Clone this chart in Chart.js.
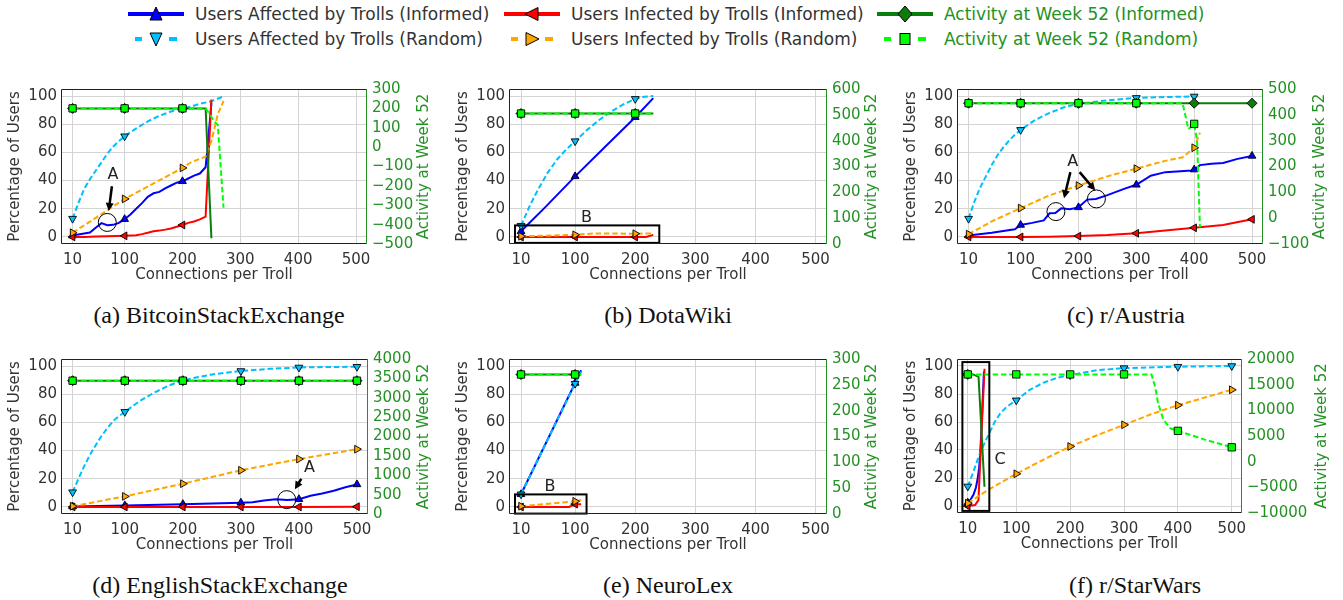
<!DOCTYPE html>
<html>
<head>
<meta charset="utf-8">
<title>Trolls: connections per troll</title>
<script src="https://cdn.jsdelivr.net/npm/chart.js@4.4.1/dist/chart.umd.min.js"></script>
<style>
	html, body { margin: 0; padding: 0; background: #fff; overflow: hidden; }
	body { position: relative; width: 1343px; height: 600px; font-family: 'DejaVu Sans', sans-serif; }
	canvas { position: absolute; }
	.caption { position: absolute; transform: translate(-50%, -50%); font-family: 'Liberation Serif', 'Times New Roman', serif; font-size: 24px; color: #111; white-space: nowrap; }
	.leg-handle { position: absolute; }
	.leg-text { position: absolute; font-size: 17px; line-height: 22px; white-space: nowrap; }
</style>
</head>
<body>
<script>
const markerX = [10, 100, 200, 300, 400, 500];
const xTicks = [10, 100, 200, 300, 400, 500];
const pctTicks = [0, 20, 40, 60, 80, 100];

const seriesLabels = [
	'Users Affected by Trolls (Informed)',
	'Users Affected by Trolls (Random)',
	'Users Infected by Trolls (Informed)',
	'Users Infected by Trolls (Random)',
	'Activity at Week 52 (Informed)',
	'Activity at Week 52 (Random)'
];

// (a) BitcoinStackExchange
const btcAffectedInformed = [[10, 1], [20, 1.8], [30, 2.5], [40, 3.2], [50, 6.5], [60, 9.8], [70, 8.3], [80, 8.6], [90, 10], [100, 12.6], [110, 16], [120, 20], [130, 24], [140, 28.5], [150, 31], [160, 32], [170, 34.5], [180, 36.5], [190, 38.5], [200, 39.5], [210, 41.5], [220, 43.5], [230, 45], [240, 49.5], [243, 62], [250, 95]];
const btcAffectedRandom = [[10, 13], [20, 24], [30, 34], [40, 41], [50, 47], [60, 53], [70, 59], [80, 64], [90, 68], [100, 71.5], [120, 77], [140, 82], [160, 86], [180, 89], [200, 91.5], [215, 92.5], [230, 94.5], [250, 96.3], [271, 99.8]];
const btcInfectedInformed = [[10, 0], [30, 0], [50, 0.3], [70, 0.5], [100, 0.8], [120, 1.2], [130, 2], [140, 3], [150, 4], [160, 4.5], [170, 5.2], [180, 6], [190, 7.2], [200, 8.5], [210, 10], [220, 11], [230, 12.5], [240, 14.4], [250, 97.5]];
const btcInfectedRandom = [[10, 3], [50, 13.5], [100, 27], [150, 38], [200, 49], [215, 53], [240, 57], [250, 68], [261, 87], [271, 96.5]];
const btcActivityInformed = [[10, 200], [100, 200], [200, 200], [240, 200], [250, -470]];
const btcActivityRandom = [[10, 200], [100, 200], [200, 200], [240, 200], [246, 175], [255, 132], [261, 115], [271, -313]];
const btcActivityTicks = [-500, -400, -300, -200, -100, 0, 100, 200, 300];
const btcNotes = [
	{ kind: 'circle', at: [70, 10.3] },
	{ kind: 'arrow', from: [78, 36], to: [72.5, 18.5] },
	{ kind: 'text', at: [80, 44], text: 'A' }
];

// (b) DotaWiki
const dotaAffectedInformed = [[10, 4], [50, 21], [100, 43], [150, 64], [200, 85], [230, 98.5]];
const dotaAffectedRandom = [[10, 8], [25, 22.5], [40, 35], [55, 46], [70, 55], [85, 62], [100, 68], [120, 76], [140, 83], [160, 89], [180, 94], [200, 98], [215, 99.5], [230, 100]];
const dotaInfectedInformed = [[10, 0], [100, 0], [200, 0], [218, 0], [230, 1.5]];
const dotaInfectedRandom = [[10, 0.5], [60, 1], [100, 1.5], [130, 2.5], [200, 2.3], [230, 2.5]];
const dotaActivityInformed = [[10, 505], [100, 505], [200, 505], [230, 505]];
const dotaActivityRandom = [[10, 505], [100, 505], [200, 505], [230, 505]];
const dotaActivityTicks = [0, 100, 200, 300, 400, 500, 600];
const dotaNotes = [
	{ kind: 'box', from: [0, 8.2], to: [240, -4.2] },
	{ kind: 'text', at: [119, 13.5], text: 'B' }
];

// (c) r/Austria
const austriaAffectedInformed = [[10, 1], [50, 3], [90, 5.5], [100, 8.5], [120, 10], [140, 11.7], [150, 16.8], [160, 17], [170, 20.3], [185, 19.6], [200, 21], [215, 26.5], [230, 27], [250, 29.7], [280, 34.3], [300, 37], [325, 43.5], [350, 46], [370, 46.5], [395, 47.2], [400, 47.8], [410, 51], [430, 52], [450, 52.5], [475, 55.4], [500, 57.5]];
const austriaAffectedRandom = [[10, 13], [20, 25], [30, 35], [40, 43], [50, 51], [60, 58], [70, 63.5], [80, 68.5], [90, 72.5], [100, 76], [125, 83], [150, 88], [175, 92], [200, 94.5], [250, 97], [300, 98.7], [350, 99.3], [400, 99.7], [410, 99.8]];
const austriaInfectedInformed = [[10, 0], [100, 0], [150, 0.2], [200, 0.6], [250, 1.3], [300, 2.6], [350, 4.5], [400, 6.5], [450, 8.5], [500, 12.5]];
const austriaInfectedRandom = [[10, 2], [50, 11], [100, 20.5], [150, 29.5], [200, 36.5], [250, 43], [300, 48.5], [350, 54], [380, 56.5], [400, 63.3], [410, 74]];
const austriaActivityInformed = [[10, 445], [100, 445], [200, 445], [300, 445], [400, 445], [500, 445]];
const austriaActivityRandom = [[10, 445], [100, 445], [200, 445], [300, 445], [380, 445], [390, 345], [400, 365], [405, 300], [410, -35]];
const austriaActivityTicks = [-100, 0, 100, 200, 300, 400, 500];
const austriaNotes = [
	{ kind: 'circle', at: [161, 18] },
	{ kind: 'circle', at: [231, 27] },
	{ kind: 'arrow', from: [186, 46], to: [175, 27.5] },
	{ kind: 'arrow', from: [202, 46], to: [229, 33] },
	{ kind: 'text', at: [190, 53], text: 'A' }
];

// (d) EnglishStackExchange
const englishAffectedInformed = [[10, 0.3], [100, 1], [200, 2], [300, 3], [320, 3.3], [340, 4.5], [360, 5.5], [380, 5], [400, 5.5], [420, 8], [440, 9.5], [460, 11.5], [480, 14], [500, 16]];
const englishAffectedRandom = [[10, 10.5], [20, 20], [30, 29], [40, 37], [50, 44], [60, 50.5], [70, 56], [80, 61], [90, 64.5], [100, 67.5], [125, 75], [150, 81], [175, 86], [200, 90], [250, 94], [300, 96.5], [350, 98], [400, 99], [450, 99.3], [500, 99.5]];
const englishInfectedInformed = [[10, 0], [100, 0], [200, 0], [300, 0], [400, 0], [500, 0.2]];
const englishInfectedRandom = [[10, 0.5], [100, 7.5], [200, 16.5], [300, 26], [400, 34], [500, 41]];
const englishActivityInformed = [[10, 3440], [100, 3440], [200, 3440], [300, 3440], [400, 3440], [500, 3440]];
const englishActivityRandom = [[10, 3440], [100, 3440], [200, 3440], [300, 3440], [400, 3440], [500, 3440]];
const englishActivityTicks = [0, 500, 1000, 1500, 2000, 2500, 3000, 3500, 4000];
const englishNotes = [
	{ kind: 'circle', at: [379, 5.2] },
	{ kind: 'arrow', from: [404, 20], to: [393, 12.5] },
	{ kind: 'text', at: [418, 28], text: 'A' }
];

// (e) NeuroLex
const neuroAffectedInformed = [[10, 9], [100, 88], [110, 97]];
const neuroAffectedRandom = [[10, 9], [100, 87.5], [110, 96]];
const neuroInfectedInformed = [[10, 0], [90, 0], [100, 2], [110, 2]];
const neuroInfectedRandom = [[10, 0.5], [100, 4], [110, 5]];
const neuroActivityInformed = [[10, 270], [100, 270], [110, 270]];
const neuroActivityRandom = [[10, 270], [100, 270], [110, 270]];
const neuroActivityTicks = [0, 50, 100, 150, 200, 250, 300];
const neuroNotes = [
	{ kind: 'box', from: [0, 8.9], to: [119, -4.7] },
	{ kind: 'text', at: [58, 14], text: 'B' }
];

// (f) r/StarWars
const starwarsAffectedInformed = [[10, 2.3], [15, 4.5], [20.5, 8], [25, 13], [28, 18.7], [31, 27], [33, 37], [35, 52], [37, 70], [40, 96]];
const starwarsAffectedRandom = [[10, 14], [20, 24], [30, 35], [40, 44], [50, 52], [60, 60], [70, 66], [80, 70], [90, 73], [100, 75.5], [125, 83], [150, 88], [175, 91.5], [200, 93.5], [250, 97], [300, 98.5], [400, 99.5], [500, 100]];
const starwarsInfectedInformed = [[10, 0], [23.6, 0.7], [29.8, 4.2], [41, 98]];
const starwarsInfectedRandom = [[10, 2], [50, 12], [100, 23], [150, 33], [200, 42.5], [250, 50.5], [300, 58], [350, 65.5], [400, 72], [450, 77.5], [500, 83]];
const starwarsActivityInformed = [[10, 17000], [20, 17000], [30, 16500], [41, -4900]];
const starwarsActivityRandom = [[10, 17000], [100, 17000], [200, 17000], [300, 17000], [351, 17000], [358, 14500], [363, 11500], [373, 8200], [386, 6500], [400, 6000], [450, 4300], [500, 2800]];
const starwarsActivityTicks = [-10000, -5000, 0, 5000, 10000, 15000, 20000];
const starwarsNotes = [
	{ kind: 'box', from: [0, 102.8], to: [50, -3.5] },
	{ kind: 'text', at: [70, 33], text: 'C' }
];

const panels = [
	{ caption: '(a) BitcoinStackExchange', series: [btcAffectedInformed, btcAffectedRandom, btcInfectedInformed, btcInfectedRandom, btcActivityInformed, btcActivityRandom], activityTicks: btcActivityTicks, notes: btcNotes },
	{ caption: '(b) DotaWiki', series: [dotaAffectedInformed, dotaAffectedRandom, dotaInfectedInformed, dotaInfectedRandom, dotaActivityInformed, dotaActivityRandom], activityTicks: dotaActivityTicks, notes: dotaNotes },
	{ caption: '(c) r/Austria', series: [austriaAffectedInformed, austriaAffectedRandom, austriaInfectedInformed, austriaInfectedRandom, austriaActivityInformed, austriaActivityRandom], activityTicks: austriaActivityTicks, notes: austriaNotes },
	{ caption: '(d) EnglishStackExchange', series: [englishAffectedInformed, englishAffectedRandom, englishInfectedInformed, englishInfectedRandom, englishActivityInformed, englishActivityRandom], activityTicks: englishActivityTicks, notes: englishNotes },
	{ caption: '(e) NeuroLex', series: [neuroAffectedInformed, neuroAffectedRandom, neuroInfectedInformed, neuroInfectedRandom, neuroActivityInformed, neuroActivityRandom], activityTicks: neuroActivityTicks, notes: neuroNotes },
	{ caption: '(f) r/StarWars', series: [starwarsAffectedInformed, starwarsAffectedRandom, starwarsInfectedInformed, starwarsInfectedRandom, starwarsActivityInformed, starwarsActivityRandom], activityTicks: starwarsActivityTicks, notes: starwarsNotes }
];

// where each plot area sits on the page, in px
const frames = [
	{ left: 61, top: 87, right: 367, bottom: 244, rightTitle: 57, capX: 219, capY: 315 },
	{ left: 509, top: 87, right: 827, bottom: 244, rightTitle: 45, capX: 668, capY: 315 },
	{ left: 957, top: 87, right: 1263, bottom: 244, rightTitle: 57, capX: 1126, capY: 315 },
	{ left: 61, top: 357, right: 368, bottom: 514, rightTitle: 56, capX: 220, capY: 585 },
	{ left: 509, top: 357, right: 827, bottom: 514, rightTitle: 45, capX: 668, capY: 585 },
	{ left: 957, top: 357, right: 1242, bottom: 513, rightTitle: 80, capX: 1135, capY: 585 }
];

const TEXT = '#333333';
const GREEN_TEXT = '#249124';
const GRID = '#d4d4d4';
const DASH = [5.5, 2.8];
const LEFT_W = 60;
const RIGHT_W = 100;
const TOP_PAD = 12;
const BOTTOM_H = 45;

const styles = [
	{ color: '#0000ff', dashed: false, marker: 'triangle', rotation: 0, radius: 4.5, axis: 'y' },
	{ color: '#00bfff', dashed: true, marker: 'triangle', rotation: 180, radius: 4.5, axis: 'y' },
	{ color: '#ff0000', dashed: false, marker: 'triangle', rotation: 270, radius: 4.5, axis: 'y' },
	{ color: '#ffa500', dashed: true, marker: 'triangle', rotation: 90, radius: 4.5, axis: 'y' },
	{ color: '#0a7d0a', dashed: false, marker: 'rectRot', rotation: 0, radius: 5, axis: 'y1' },
	{ color: '#00ff00', dashed: true, marker: 'rect', rotation: 0, radius: 5.2, axis: 'y1' }
];

Chart.defaults.font.family = "'DejaVu Sans', sans-serif";
Chart.defaults.font.size = 15;
Chart.defaults.color = TEXT;

function minusLabel(v) {
	return v < 0 ? '\u2212' + Math.abs(v) : String(v);
}

function drawNotes(chart, notes) {
	const { ctx, scales } = chart;
	const px = (v) => scales.x.getPixelForValue(v);
	const py = (v) => scales.y.getPixelForValue(v);
	ctx.save();
	ctx.strokeStyle = '#000';
	ctx.fillStyle = '#000';
	notes.forEach((n) => {
		if (n.kind === 'circle') {
			ctx.lineWidth = 1;
			ctx.beginPath();
			ctx.arc(px(n.at[0]), py(n.at[1]), 9, 0, Math.PI * 2);
			ctx.stroke();
		} else if (n.kind === 'box') {
			const x0 = px(n.from[0]);
			const y0 = py(n.from[1]);
			ctx.lineWidth = 2;
			ctx.strokeRect(x0, y0, px(n.to[0]) - x0, py(n.to[1]) - y0);
		} else if (n.kind === 'arrow') {
			const x0 = px(n.from[0]);
			const y0 = py(n.from[1]);
			const x1 = px(n.to[0]);
			const y1 = py(n.to[1]);
			const ang = Math.atan2(y1 - y0, x1 - x0);
			const head = 8;
			const cos = Math.cos(ang);
			const sin = Math.sin(ang);
			ctx.lineWidth = 2.5;
			ctx.beginPath();
			ctx.moveTo(x0, y0);
			ctx.lineTo(x1 - cos * head * 0.8, y1 - sin * head * 0.8);
			ctx.stroke();
			ctx.beginPath();
			ctx.moveTo(x1, y1);
			ctx.lineTo(x1 - head * cos + 4 * sin, y1 - head * sin - 4 * cos);
			ctx.lineTo(x1 - head * cos - 4 * sin, y1 - head * sin + 4 * cos);
			ctx.closePath();
			ctx.fill();
		} else if (n.kind === 'text') {
			ctx.font = "16px 'DejaVu Sans'";
			ctx.fillStyle = '#222';
			ctx.textAlign = 'center';
			ctx.textBaseline = 'middle';
			ctx.fillText(n.text, px(n.at[0]), py(n.at[1]));
			ctx.fillStyle = '#000';
		}
	});
	ctx.restore();
}

function panelDecor(frame, notes) {
	return {
		id: 'panelDecor',
		afterDatasetsDraw(chart) {
			const { ctx, chartArea: a } = chart;
			drawNotes(chart, notes);

			ctx.save();
			ctx.lineWidth = 1;
			ctx.strokeStyle = '#222';
			ctx.beginPath();
			ctx.moveTo(a.right, a.top + 0.5);
			ctx.lineTo(a.left + 0.5, a.top + 0.5);
			ctx.lineTo(a.left + 0.5, a.bottom - 0.5);
			ctx.lineTo(a.right, a.bottom - 0.5);
			ctx.stroke();
			ctx.strokeStyle = GREEN_TEXT;
			ctx.beginPath();
			ctx.moveTo(a.right - 0.5, a.top);
			ctx.lineTo(a.right - 0.5, a.bottom);
			ctx.stroke();

			const midY = (a.top + a.bottom) / 2;
			ctx.font = "15px 'DejaVu Sans'";
			ctx.textAlign = 'center';
			ctx.textBaseline = 'middle';
			ctx.fillStyle = TEXT;
			ctx.fillText('Connections per Troll', (a.left + a.right) / 2, a.bottom + 31);

			ctx.translate(a.left - 46, midY);
			ctx.rotate(-Math.PI / 2);
			ctx.fillText('Percentage of Users', 0, 0);
			ctx.restore();

			ctx.save();
			ctx.font = "15px 'DejaVu Sans'";
			ctx.textAlign = 'center';
			ctx.textBaseline = 'middle';
			ctx.fillStyle = GREEN_TEXT;
			ctx.translate(a.right + frame.rightTitle, midY);
			ctx.rotate(-Math.PI / 2);
			ctx.fillText('Activity at Week 52', 0, 0);
			ctx.restore();
		}
	};
}

panels.forEach((panel, i) => {
	const f = frames[i];
	const canvas = document.createElement('canvas');
	canvas.width = f.right - f.left + LEFT_W + RIGHT_W;
	canvas.height = f.bottom - f.top + TOP_PAD + BOTTOM_H;
	canvas.style.left = (f.left - LEFT_W) + 'px';
	canvas.style.top = (f.top - TOP_PAD) + 'px';
	document.body.appendChild(canvas);

	const datasets = panel.series.map((points, k) => {
		const s = styles[k];
		return {
			label: seriesLabels[k],
			data: points.map((p) => ({ x: p[0], y: p[1] })),
			yAxisID: s.axis,
			borderColor: s.color,
			backgroundColor: s.color,
			borderWidth: 2,
			borderDash: s.dashed ? DASH : [],
			pointStyle: s.marker,
			pointRotation: s.rotation,
			pointRadius: (ctx) => (ctx.raw && markerX.includes(ctx.raw.x) ? s.radius : 0),
			pointBackgroundColor: s.color,
			pointBorderColor: '#000',
			pointBorderWidth: 0.9,
			tension: 0,
			fill: false,
			order: 5 - k
		};
	});

	const act = panel.activityTicks;

	new Chart(canvas.getContext('2d'), {
		type: 'line',
		data: { datasets },
		options: {
			responsive: false,
			animation: false,
			events: [],
			layout: { padding: { top: TOP_PAD, left: 0, right: 0, bottom: 0 } },
			plugins: { legend: { display: false }, tooltip: { enabled: false } },
			scales: {
				x: {
					type: 'linear',
					min: -10,
					max: 519,
					afterBuildTicks: (scale) => { scale.ticks = xTicks.map((v) => ({ value: v })); },
					afterFit: (scale) => { scale.height = BOTTOM_H; },
					ticks: { color: TEXT, padding: 7, maxRotation: 0, autoSkip: false, callback: (v) => String(v) },
					grid: { color: GRID, lineWidth: 1, drawTicks: false },
					border: { display: false }
				},
				y: {
					position: 'left',
					min: -5,
					max: 105,
					afterBuildTicks: (scale) => { scale.ticks = pctTicks.map((v) => ({ value: v })); },
					afterFit: (scale) => { scale.width = LEFT_W; },
					ticks: { color: TEXT, padding: 4, autoSkip: false, callback: (v) => String(v) },
					grid: { color: GRID, lineWidth: 1, drawTicks: false },
					border: { display: false }
				},
				y1: {
					position: 'right',
					min: act[0],
					max: act[act.length - 1],
					afterBuildTicks: (scale) => { scale.ticks = act.map((v) => ({ value: v })); },
					afterFit: (scale) => { scale.width = RIGHT_W; },
					ticks: { color: GREEN_TEXT, padding: 5, autoSkip: false, callback: minusLabel },
					grid: { display: false, drawTicks: false },
					border: { display: false }
				}
			}
		},
		plugins: [panelDecor(f, panel.notes)]
	});

	const cap = document.createElement('div');
	cap.className = 'caption';
	cap.style.left = f.capX + 'px';
	cap.style.top = f.capY + 'px';
	cap.textContent = panel.caption;
	document.body.appendChild(cap);
});

// legend: three columns, two rows (informed on top, random below)
const legendRows = [14, 39];
const legendCols = [128, 504, 877];
const LEG_TEXT_GAP = 67;

function markerShape(s) {
	const stroke = 'stroke="#000" stroke-width="1"';
	if (s.marker === 'rect') {
		return `<rect x="23" y="5.5" width="10" height="11" fill="${s.color}" ${stroke}/>`;
	}
	if (s.marker === 'rectRot') {
		return `<polygon points="28,3 35,11 28,19 21,11" fill="${s.color}" ${stroke}/>`;
	}
	const tri = {
		0: '28,4 34,17 22,17',
		180: '22,5 34,5 28,18',
		270: '21,11 34,4.5 34,17.5',
		90: '22,4.5 35,11 22,17.5'
	};
	return `<polygon points="${tri[s.rotation]}" fill="${s.color}" ${stroke}/>`;
}

styles.forEach((s, k) => {
	const col = Math.floor(k / 2);
	const row = k % 2;
	const x = legendCols[col];
	const y = legendRows[row];
	const line = s.dashed
		? `<line x1="7" y1="11" x2="14" y2="11" stroke="${s.color}" stroke-width="4"/><line x1="41" y1="11" x2="49" y2="11" stroke="${s.color}" stroke-width="4"/>`
		: `<line x1="0" y1="11" x2="56" y2="11" stroke="${s.color}" stroke-width="4"/>`;
	const handle = document.createElement('div');
	handle.className = 'leg-handle';
	handle.style.left = x + 'px';
	handle.style.top = (y - 11) + 'px';
	handle.innerHTML = `<svg width="56" height="22" xmlns="http://www.w3.org/2000/svg">${line}${markerShape(s)}</svg>`;
	document.body.appendChild(handle);

	const txt = document.createElement('div');
	txt.className = 'leg-text';
	txt.style.left = (x + LEG_TEXT_GAP) + 'px';
	txt.style.top = (y - 11) + 'px';
	txt.style.color = col === 2 ? GREEN_TEXT : TEXT;
	txt.textContent = seriesLabels[k];
	document.body.appendChild(txt);
});
</script>
</body>
</html>
